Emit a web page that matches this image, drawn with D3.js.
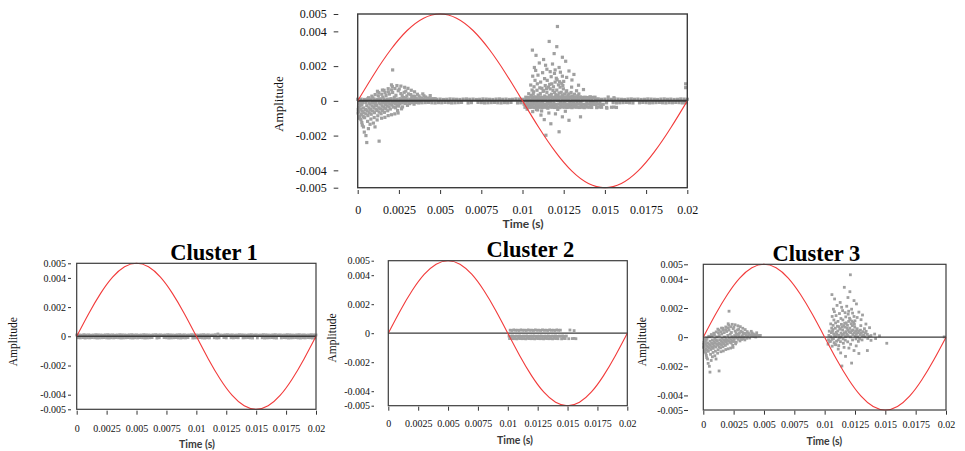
<!DOCTYPE html>
<html><head><meta charset="utf-8">
<script src="https://cdn.jsdelivr.net/npm/d3@7"></script>
<style>body{margin:0;background:#fff}svg{display:block}</style>
</head><body>
<svg id="chart" width="965" height="451"></svg>
<script>
// ---- data ----
const sineTime = [0,0.001,0.002,0.003,0.004,0.005,0.006,0.007,0.008,0.009,0.01,0.011,0.012,0.013,0.014,0.015,0.016,0.017,0.018,0.019,0.02];
const sineAmp  = [0,0.00155,0.00294,0.00405,0.00476,0.005,0.00476,0.00405,0.00294,0.00155,0,-0.00155,-0.00294,-0.00405,-0.00476,-0.005,-0.00476,-0.00405,-0.00294,-0.00155,0];
const xTicks = [0,0.0025,0.005,0.0075,0.01,0.0125,0.015,0.0175,0.02];
const yTicks = [0.005,0.004,0.002,0,-0.002,-0.004,-0.005];
const titles = ["Cluster 1","Cluster 2","Cluster 3"];

// Cluster 1: dense low-amplitude band along zero
const cluster1 = [
[0.0000,0.00009],[0.0002,0.0001],[0.0004,0.00008],[0.0006,0.00011],[0.0008,0.00009],[0.0010,0.0001],[0.0012,0.00008],[0.0014,0.00009],[0.0016,0.00011],[0.0018,0.0001],
[0.0020,0.00009],[0.0022,0.00008],[0.0024,0.0001],[0.0026,0.00011],[0.0028,0.00009],[0.0030,0.0001],[0.0032,0.00008],[0.0034,0.00009],[0.0036,0.00011],[0.0038,0.0001],
[0.0040,0.00009],[0.0042,0.00008],[0.0044,0.0001],[0.0046,0.00011],[0.0048,0.00009],[0.0050,0.0001],[0.0052,0.00008],[0.0054,0.00009],[0.0056,0.00011],[0.0058,0.0001],
[0.0060,0.00009],[0.0062,0.00008],[0.0064,0.0001],[0.0066,0.00011],[0.0068,0.00009],[0.0070,0.0001],[0.0072,0.00008],[0.0074,0.00009],[0.0076,0.00011],[0.0078,0.0001],
[0.0080,0.00009],[0.0082,0.00008],[0.0084,0.0001],[0.0086,0.00011],[0.0088,0.00009],[0.0090,0.0001],[0.0092,0.00008],[0.0094,0.00009],[0.0096,0.00011],[0.0098,0.0001],
[0.0100,0.00009],[0.0102,0.00008],[0.0104,0.0001],[0.0106,0.00011],[0.0108,0.00009],[0.0110,0.0001],[0.0112,0.00008],[0.0114,0.00009],[0.0116,0.00011],[0.0118,0.00016],
[0.0120,0.00009],[0.0122,0.00008],[0.0124,0.0001],[0.0126,0.00011],[0.0128,0.00009],[0.0130,0.0001],[0.0132,0.00008],[0.0134,0.00009],[0.0136,0.00011],[0.0138,0.0001],
[0.0140,0.00009],[0.0142,0.00008],[0.0144,0.0001],[0.0146,0.00011],[0.0148,0.00009],[0.0150,0.0001],[0.0152,0.00008],[0.0154,0.00009],[0.0156,0.00011],[0.0158,0.0001],
[0.0160,0.00009],[0.0162,0.00008],[0.0164,0.0001],[0.0166,0.00011],[0.0168,0.00009],[0.0170,0.0001],[0.0172,0.00008],[0.0174,0.00009],[0.0176,0.00011],[0.0178,0.0001],
[0.0180,0.00009],[0.0182,0.00008],[0.0184,0.0001],[0.0186,0.00011],[0.0188,0.00009],[0.0190,0.0001],[0.0192,0.00008],[0.0194,0.00009],[0.0196,0.00011],[0.0198,0.0001],[0.0200,0.00009],
[0.0001,-0.0001],[0.0003,-0.00011],[0.0005,-0.00009],[0.0007,-0.00012],[0.0009,-0.0001],[0.0011,-0.00011],[0.0013,-0.00009],[0.0015,-0.0001],[0.0017,-0.00012],[0.0019,-0.00011],
[0.0021,-0.0001],[0.0023,-0.00009],[0.0025,-0.00011],[0.0027,-0.00012],[0.0029,-0.0001],[0.0031,-0.00011],[0.0033,-0.00009],[0.0035,-0.0001],[0.0037,-0.00012],[0.0039,-0.00011],
[0.0041,-0.0001],[0.0043,-0.00009],[0.0045,-0.00011],[0.0047,-0.00012],[0.0049,-0.0001],[0.0051,-0.00011],[0.0053,-0.00009],[0.0055,-0.0001],[0.0057,-0.00012],[0.0059,-0.00011],
[0.0061,-0.0001],[0.0063,-0.00009],[0.0067,-0.00012],[0.0069,-0.0001],[0.0073,-0.00009],[0.0075,-0.0001],[0.0077,-0.00012],[0.0079,-0.00011],
[0.0081,-0.0001],[0.0083,-0.00009],[0.0085,-0.00011],[0.0087,-0.00012],[0.0089,-0.0001],[0.0091,-0.00011],[0.0093,-0.00009],[0.0097,-0.00012],[0.0099,-0.00011],
[0.0101,-0.0001],[0.0103,-0.00009],[0.0105,-0.00011],[0.0107,-0.00012],[0.0109,-0.0001],[0.0111,-0.00011],[0.0115,-0.0001],[0.0117,-0.00012],[0.0119,-0.00011],
[0.0123,-0.00009],[0.0125,-0.00011],[0.0129,-0.0001],[0.0131,-0.00011],[0.0133,-0.00009],[0.0135,-0.0001],[0.0139,-0.00011],
[0.0141,-0.0001],[0.0143,-0.00009],[0.0145,-0.00011],[0.0147,-0.00012],[0.0151,-0.00011],[0.0155,-0.0001],[0.0157,-0.00012],[0.0159,-0.00011],
[0.0161,-0.0001],[0.0163,-0.00009],[0.0165,-0.00011],[0.0167,-0.00012],[0.0171,-0.00011],[0.0173,-0.00009],[0.0175,-0.0001],[0.0177,-0.00012],[0.0179,-0.00011],
[0.0181,-0.0001],[0.0183,-0.00009],[0.0185,-0.00011],[0.0187,-0.00012],[0.0189,-0.0001],[0.0191,-0.00011],[0.0193,-0.00009],[0.0195,-0.0001],[0.0197,-0.00012],[0.0199,-0.00011]
];

// Cluster 2: narrow band just after 0.01 s
const cluster2 = [
[0.0102,0.00021],[0.01035,0.00019],[0.0105,0.00023],[0.01065,0.0002],[0.0108,0.00021],[0.01095,0.00019],[0.0111,0.00023],[0.01125,0.0002],[0.0114,0.00021],[0.01155,0.00019],
[0.0117,0.00023],[0.01185,0.0002],[0.012,0.00021],[0.01215,0.00019],[0.0123,0.00023],[0.01245,0.0002],[0.0126,0.00021],[0.01275,0.00019],[0.0129,0.00023],[0.01305,0.0002],
[0.0132,0.00021],[0.01335,0.00019],[0.0135,0.00023],[0.01365,0.0002],[0.0138,0.00021],[0.01395,0.00019],[0.0141,0.00023],[0.01425,0.0002],[0.0144,0.00021],
[0.0152,0.00022],[0.01555,0.00018],
[0.0101,-0.0002],[0.01025,-0.00021],[0.0104,-0.00019],[0.01055,-0.00022],[0.0107,-0.0002],[0.01085,-0.00021],[0.011,-0.00019],[0.01115,-0.00022],[0.0113,-0.0002],[0.01145,-0.00021],
[0.0116,-0.00019],[0.01175,-0.00022],[0.0119,-0.0002],[0.01205,-0.00021],[0.0122,-0.00019],[0.01235,-0.00022],[0.0125,-0.0002],[0.01265,-0.00021],[0.0128,-0.00019],[0.01295,-0.00022],
[0.0131,-0.0002],[0.01325,-0.00021],[0.0134,-0.00019],[0.01355,-0.00022],[0.0137,-0.0002],[0.01385,-0.00021],[0.014,-0.00019],[0.01415,-0.00022],[0.0143,-0.0002],[0.01445,-0.00021],
[0.0146,-0.00019],[0.01475,-0.00022],[0.0149,-0.0002],
[0.01015,-0.00037],[0.0103,-0.00036],[0.01045,-0.00038],[0.0106,-0.00037],[0.01075,-0.00039],[0.0109,-0.00036],[0.01105,-0.00037],[0.0112,-0.00038],[0.01135,-0.00037],[0.0115,-0.00039],
[0.01165,-0.00036],[0.0118,-0.00037],[0.01195,-0.00038],[0.0121,-0.00037],[0.01225,-0.00039],[0.0124,-0.00036],[0.01255,-0.00037],[0.0127,-0.00038],[0.01285,-0.00037],[0.013,-0.00039],
[0.01315,-0.00036],[0.0133,-0.00037],[0.01345,-0.00038],[0.0136,-0.00037],[0.01375,-0.00039],[0.0139,-0.00036],[0.01405,-0.00037],[0.0142,-0.00038],[0.0145,-0.00039],
[0.01465,-0.00036],[0.0148,-0.00037],[0.0151,-0.00038],[0.0154,-0.00037],[0.01555,-0.00036],[0.0157,-0.00038]
];

// Cluster 3: two scattered bursts
const cluster3 = [
[0.00005,-0.00035],[0.00008,-0.00062],[0.00012,-0.00088],[0.0001,-0.00015],[0.00018,-0.00048],[0.00022,-0.00079],[0.0002,-0.00108],[0.00025,-0.00022],
[0.00035,-0.00041],[0.00038,-0.00069],[0.00042,-0.00097],[0.00031,-0.00008],[0.00045,0.00006],
[0.00055,-0.00028],[0.00058,-0.00057],[0.00062,-0.00085],[0.0006,-0.00118],[0.00052,0.00002],[0.00066,0.00018],
[0.00075,-0.00019],[0.00078,-0.00049],[0.00082,-0.00077],[0.0008,-0.00105],[0.00072,0.00009],[0.00086,0.00027],
[0.00095,-0.00012],[0.00098,-0.00038],[0.00102,-0.00068],[0.001,-0.00096],[0.00092,0.00017],[0.00106,0.00036],
[0.00115,-0.00027],[0.00118,-0.00055],[0.00122,-0.00086],[0.00112,0.00002],[0.00125,0.00029],[0.00128,0.00047],
[0.00135,-0.00018],[0.00138,-0.00046],[0.00142,-0.00074],[0.00132,0.00011],[0.00146,0.00038],
[0.00155,-0.00009],[0.00158,-0.00037],[0.00162,-0.00066],[0.00152,0.00021],[0.00166,0.00048],[0.0016,0.00061],
[0.00175,0.00001],[0.00178,-0.00029],[0.00182,-0.00057],[0.00172,0.00031],[0.00186,0.00052],
[0.00195,-0.00018],[0.00198,-0.00047],[0.00202,0.00012],[0.00192,0.00039],[0.00206,0.00063],[0.0021,0.00082],
[0.00215,-0.00008],[0.00218,-0.00036],[0.00222,0.00021],[0.00212,0.00048],[0.00226,0.00071],
[0.00235,0.00003],[0.00238,-0.00027],[0.00242,-0.00056],[0.00232,0.00032],[0.00246,0.00058],
[0.00255,-0.00015],[0.00258,0.00011],[0.00262,0.00042],[0.00252,0.00068],[0.00266,-0.00046],
[0.00275,-0.00006],[0.00278,0.00019],[0.00282,0.00049],[0.00272,-0.00035],
[0.00295,0.00002],[0.00298,0.00028],[0.00302,-0.00026],[0.00292,0.00056],
[0.00315,-0.00016],[0.00318,0.00009],[0.00322,0.00036],[0.00335,0.00001],[0.00338,0.00027],[0.00342,-0.00019],
[0.00355,0.00012],[0.00358,-0.00008],[0.00362,0.00038],[0.00378,0.00018],[0.00382,-0.00006],
[0.00398,0.00009],[0.00402,0.00029],[0.00428,0.00016],[0.00432,0.00001],[0.00462,0.00011],
[0.00003,-0.0005],[0.00015,-0.0003],[0.00028,-0.0006],[0.00033,-0.0009],[0.00048,-0.0005],[0.0005,-0.00075],[0.00068,-0.0004],[0.0007,-0.00068],
[0.00088,-0.0003],[0.0009,-0.00058],[0.00108,-0.0002],[0.0011,-0.00048],[0.00128,-0.0004],[0.0013,-0.00065],[0.00148,-0.00028],[0.0015,-0.00055],
[0.00168,-0.0002],[0.0017,-0.00045],[0.00188,-0.00012],[0.0019,-0.00035],[0.00208,-0.00025],[0.00228,-0.00016],[0.0023,-0.0004],[0.00248,-0.00008],
[0.0025,-0.0003],[0.00268,0.00005],[0.0027,0.0003],[0.00288,-0.00015],[0.0029,0.00015],[0.00308,0.0004],[0.0031,-0.00005],[0.00328,0.0002],
[0.0033,-0.0001],[0.00348,0.00025],[0.00368,0.00005],[0.00372,0.00028],[0.0039,0.00015],[0.00412,0.00022],[0.00418,0.00005],[0.00445,0.00012],
[0.00212,0.00178],[0.00205,0.00092],[0.00238,0.00088],[0.00262,0.00085],[0.00285,0.00078],[0.00305,0.00072],[0.00325,0.00061],[0.00345,0.00052],
[0.00185,0.0007],[0.0015,0.00062],[0.0012,0.00055],[0.00395,0.0004],[0.0044,0.0003],[0.0047,0.00012],
[0.00025,-0.00125],[0.00035,-0.0015],[0.0004,-0.0018],[0.0005,-0.002],[0.00055,-0.0024],[0.0013,-0.00232],[0.00075,-0.00135],[0.00095,-0.00128],
[0.00118,-0.0011],[0.00145,-0.001],[0.00165,-0.00095],[0.00185,-0.00085],[0.00205,-0.0008],[0.00225,-0.00075],[0.00245,-0.0007],[0.00028,-0.0014],
[0.00065,-0.0016],[0.00105,-0.0015],[0.0001,-0.001],[0.00002,-0.0007],
[0.01032,-0.00018],[0.01035,0.00012],[0.01028,-0.00048],[0.01038,0.00041],
[0.01052,0.00003],[0.01055,0.00031],[0.01048,-0.00029],[0.01058,0.00062],[0.0105,0.00091],
[0.01072,-0.00011],[0.01075,0.00022],[0.01068,0.00052],[0.01078,-0.00038],[0.0107,0.00081],[0.01076,0.00118],
[0.01092,0.00004],[0.01095,0.00033],[0.01088,0.00061],[0.01098,-0.00028],[0.0109,0.00098],[0.01094,0.00148],
[0.01112,-0.00019],[0.01115,0.00013],[0.01108,0.00042],[0.01118,0.00072],[0.0111,0.00108],[0.01116,-0.00058],
[0.01132,0.00001],[0.01135,0.00028],[0.01128,0.00058],[0.01138,0.00088],[0.0113,-0.00031],[0.01134,0.00128],
[0.01152,-0.00012],[0.01155,0.00019],[0.01148,0.00049],[0.01158,0.00079],[0.0115,0.00118],[0.01154,-0.00042],
[0.01172,0.00004],[0.01175,0.00038],[0.01168,0.00069],[0.01178,0.00098],[0.0117,-0.00021],[0.01174,0.00139],
[0.01192,0.00011],[0.01195,0.00048],[0.01188,0.00081],[0.01198,0.00108],[0.0119,-0.00032],[0.01194,0.00158],
[0.01212,0.00002],[0.01215,0.00031],[0.01208,0.00062],[0.01218,0.00092],[0.0121,0.00121],[0.01214,-0.00049],
[0.01232,0.00018],[0.01235,0.00049],[0.01228,0.00079],[0.01238,0.00101],[0.0123,-0.00019],
[0.01252,0.00008],[0.01255,0.00039],[0.01248,0.00069],[0.01258,-0.00012],[0.0125,0.00112],
[0.01272,0.00002],[0.01275,0.00031],[0.01268,0.00058],[0.01278,-0.00029],
[0.01292,0.00018],[0.01295,0.00048],[0.01288,-0.00011],[0.01298,0.00079],
[0.01312,0.00009],[0.01315,0.00038],[0.01308,-0.00019],[0.01332,0.00002],[0.01335,0.00029],[0.01328,0.00058],
[0.01352,0.00019],[0.01355,-0.00009],[0.01382,0.00011],[0.01412,0.00021],[0.01452,0.00009],
[0.0104,-0.0003],[0.0106,-0.00015],[0.01065,0.0004],[0.01082,0.0001],[0.01085,-0.0005],[0.011,0.0002],[0.01105,0.00075],[0.01122,-0.00005],
[0.01125,0.00055],[0.01142,0.00015],[0.01145,0.0007],[0.01162,0.0003],[0.01165,0.00095],[0.01182,0.0002],[0.01185,0.0006],[0.01202,0.00035],
[0.01205,0.0013],[0.01222,0.00045],[0.01225,0.0011],[0.01242,0.0003],[0.01245,0.00088],[0.01262,0.0002],[0.01265,0.0005],[0.01282,0.0004],
[0.01302,0.00028],[0.01322,0.00015],[0.01342,0.0004],[0.01365,0.00005],
[0.01212,0.00428],[0.01162,0.00342],[0.0106,0.00292],[0.01208,0.00312],[0.01192,0.00272],[0.01082,0.00262],[0.01128,0.00238],[0.01242,0.00251],
[0.01262,0.00228],[0.01102,0.00218],[0.01182,0.00212],[0.01072,0.00192],[0.01148,0.00182],[0.01222,0.00192],[0.01282,0.00172],[0.01312,0.00152],
[0.01122,0.00162],[0.01062,0.00142],[0.01242,0.00142],[0.01198,0.00178],[0.01168,0.00168],[0.0114,0.00205],[0.013,0.0012],[0.01268,0.00135],
[0.0108,0.00175],[0.0123,0.00165],[0.0137,0.00065],[0.0134,0.0009],
[0.01112,-0.00082],[0.01132,-0.00108],[0.01172,-0.00132],[0.01142,-0.00198],[0.01222,-0.00178],[0.01242,-0.00092],[0.01282,-0.00112],[0.01352,-0.00092],
[0.01062,-0.00062],[0.01092,-0.00052],[0.012,-0.00075],[0.0126,-0.0006],[0.0116,-0.0007],[0.01512,-0.00042],[0.01382,-0.00022],[0.0142,-0.0001],
[0.01985,0.00002]
];

// Points visible only in the combined (top) view
const unclustered = [[0.0199,0.00098],[0.0199,0.00076]];

// ---- layout ----
const panels = [
  {data: cluster1.concat(cluster2, cluster3, unclustered), title: null,
   L:357.7, R:687.3, T:14, B:187.7, pt:3.2, zeroW:2, frameW:1.4,
   yAxisX:338.3, yTick:4.6, yPad:7, xAxisY:190, xTick:4, xPad:11.5, fs:12,
   ampX:278, ampY:104, ampFs:13, timeX:523, timeY:224, timeFs:12},
  {data: cluster1, title: titles[0], titleX:214, titleY:260,
   L:76.7, R:316, T:263.3, B:409.3, pt:2.8, zeroW:1.6, frameW:1.2,
   yAxisX:71, yTick:3, yPad:2, xAxisY:410.7, xTick:4, xPad:10, fs:10,
   ampX:13, ampY:341.7, ampFs:11.5, timeX:197, timeY:444, timeFs:10.5},
  {data: cluster2, title: titles[1], titleX:530.3, titleY:257.3,
   L:388.3, R:627.3, T:260.7, B:405.7, pt:2.8, zeroW:1.3, frameW:1.2,
   yAxisX:374, yTick:2.5, yPad:1.5, xAxisY:406.7, xTick:4, xPad:8.8, fs:10,
   ampX:331.7, ampY:338, ampFs:11.5, timeX:515, timeY:440, timeFs:10.5},
  {data: cluster3, title: titles[2], titleX:816.3, titleY:260.7,
   L:703.3, R:946, T:264.3, B:410, pt:2.8, zeroW:1.3, frameW:1.2,
   yAxisX:688, yTick:4, yPad:1, xAxisY:410.7, xTick:4, xPad:5.8, fs:10,
   ampX:641.7, ampY:341.7, ampFs:11.5, timeX:824.3, timeY:441.7, timeFs:10.5}
];

const svg = d3.select("#chart");
const fmt = d => String(+d.toFixed(4));
const serif = "'Liberation Serif','Times New Roman',serif";

panels.forEach(p => {
  const x = d3.scaleLinear().domain([0, 0.02]).range([p.L, p.R]);
  const y = d3.scaleLinear().domain([-0.005, 0.005]).range([p.B, p.T]);
  const g = svg.append("g");

  // scatter points
  g.append("g").selectAll("rect").data(p.data).join("rect")
    .attr("x", d => x(d[0]) - p.pt / 2)
    .attr("y", d => y(d[1]) - p.pt / 2)
    .attr("width", p.pt).attr("height", p.pt)
    .attr("fill", "#a0a0a0");

  // zero line
  g.append("line")
    .attr("x1", p.L).attr("x2", p.R)
    .attr("y1", y(0)).attr("y2", y(0))
    .attr("stroke", "#3a3a3a").attr("stroke-width", p.zeroW);

  // sine reference
  const line = d3.line().x((d, i) => x(sineTime[i])).y(d => y(d)).curve(d3.curveNatural);
  g.append("path").datum(sineAmp).attr("d", line)
    .attr("fill", "none").attr("stroke", "#f23a3a").attr("stroke-width", 1.1);

  // frame
  g.append("rect").attr("x", p.L).attr("y", p.T)
    .attr("width", p.R - p.L).attr("height", p.B - p.T)
    .attr("fill", "none").attr("stroke", "#3c3c3c").attr("stroke-width", p.frameW);

  // y axis
  const ya = g.append("g").attr("transform", `translate(${p.yAxisX},0)`)
    .call(d3.axisLeft(y).tickValues(yTicks).tickFormat(fmt).tickSize(p.yTick).tickPadding(p.yPad));
  ya.select(".domain").remove();
  ya.selectAll("line").attr("stroke", "#333");
  ya.selectAll("text").attr("font-family", serif).attr("font-size", p.fs).attr("fill", "#111");

  // x axis
  const xa = g.append("g").attr("transform", `translate(0,${p.xAxisY})`)
    .call(d3.axisBottom(x).tickValues(xTicks).tickFormat(fmt).tickSize(p.xTick).tickPadding(p.xPad));
  xa.select(".domain").remove();
  xa.selectAll("line").attr("stroke", "#333");
  xa.selectAll("text").attr("font-family", serif).attr("font-size", p.fs).attr("fill", "#111");

  // axis titles
  g.append("text")
    .attr("transform", `translate(${p.ampX},${p.ampY}) rotate(-90)`)
    .attr("text-anchor", "middle").attr("dy", "0.35em")
    .attr("font-family", serif).attr("font-size", p.ampFs).attr("fill", "#111")
    .text("Amplitude");
  g.append("text")
    .attr("x", p.timeX).attr("y", p.timeY).attr("dy", "0.35em")
    .attr("text-anchor", "middle")
    .attr("font-family", "Lato, 'Open Sans', sans-serif").attr("font-weight", "bold")
    .attr("font-size", p.timeFs).attr("fill", "#3a3a3a")
    .text("Time (s)");

  if (p.title) {
    g.append("text").attr("x", p.titleX).attr("y", p.titleY)
      .attr("text-anchor", "middle")
      .attr("font-family", serif).attr("font-weight", "bold")
      .attr("font-size", 22.5).attr("fill", "#000")
      .text(p.title);
  }
});
</script>
</body></html>
